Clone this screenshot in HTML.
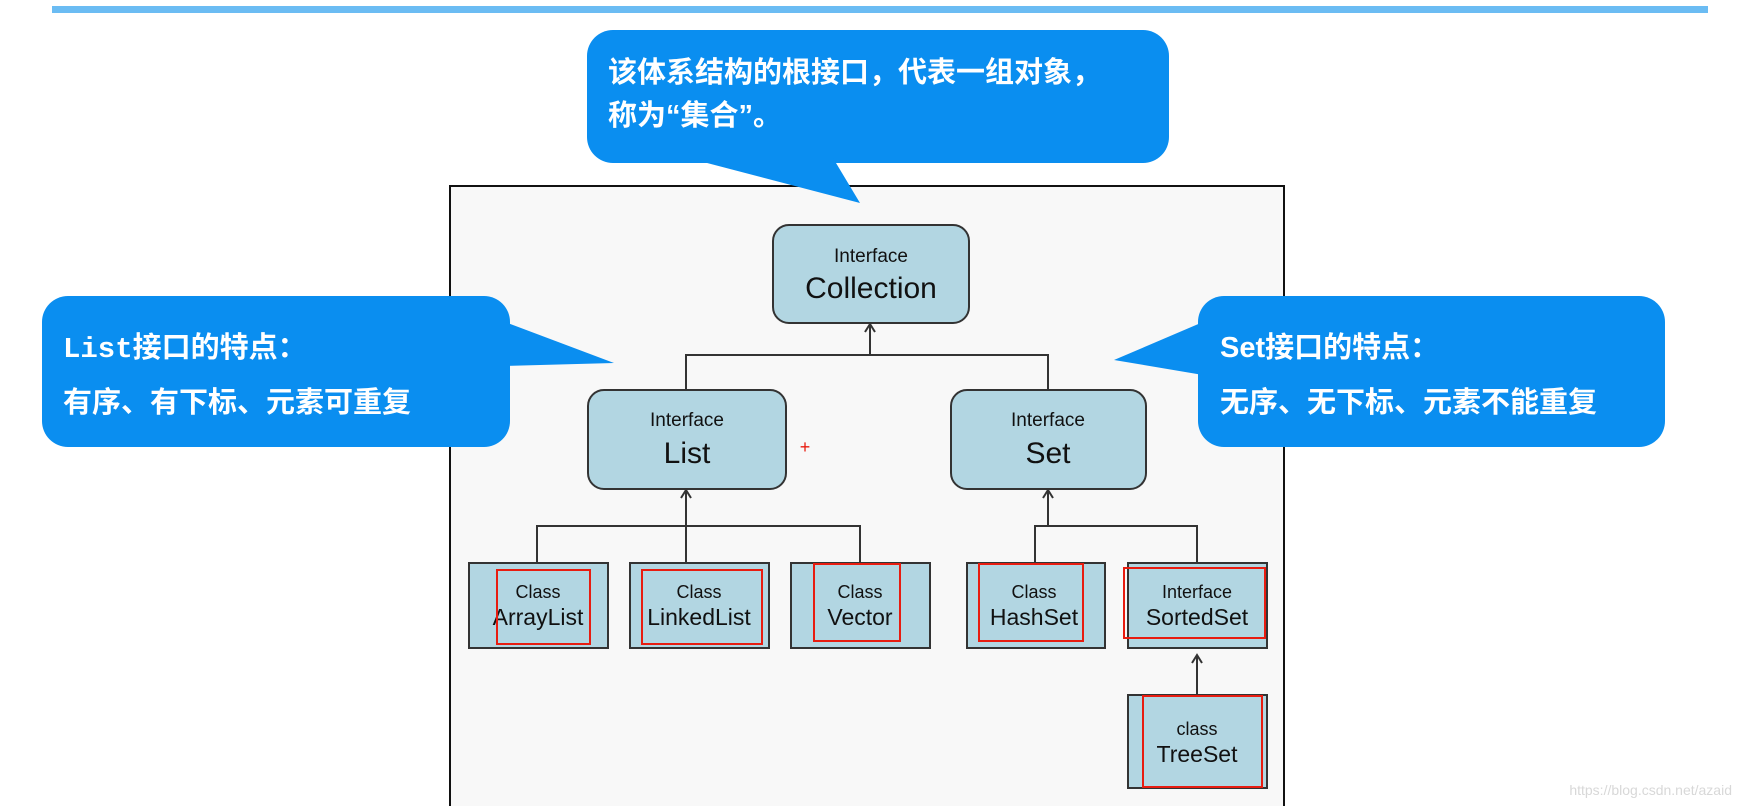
<!DOCTYPE html>
<html><head><meta charset="utf-8"><style>
html,body{margin:0;padding:0;background:#fff;}
svg{display:block}
</style></head><body>
<svg width="1741" height="806" viewBox="0 0 1741 806" xmlns="http://www.w3.org/2000/svg">
<rect x="0" y="0" width="1741" height="806" fill="#ffffff"/>
<rect x="52" y="6" width="1656" height="7" fill="#6bbcf3"/>
<!-- diagram frame -->
<rect x="450" y="186" width="834" height="625" fill="#f8f8f8" stroke="#111" stroke-width="2"/>
<g stroke="#333" stroke-width="2" fill="none">
<line x1="870" y1="325" x2="870" y2="355"/>
<polyline points="686,389 686,355 1048,355 1048,389"/>
<line x1="686" y1="491" x2="686" y2="563"/>
<polyline points="537,563 537,526 860,526 860,563"/>
<line x1="1048" y1="491" x2="1048" y2="526"/>
<polyline points="1035,563 1035,526 1197,526 1197,563"/>
<line x1="1197" y1="656" x2="1197" y2="694"/>
<polyline points="865,332 870,324 875,332"/>
<polyline points="681,498 686,490 691,498"/>
<polyline points="1043,498 1048,490 1053,498"/>
<polyline points="1192,663 1197,655 1202,663"/>
</g>
<g font-family="Liberation Sans, Arial, sans-serif" fill="#111" text-anchor="middle">
<rect x="773" y="225" width="196" height="98" rx="16" fill="#b2d6e2" stroke="#333" stroke-width="2"/>
<text x="871" y="262" font-size="19">Interface</text>
<text x="871" y="298" font-size="30">Collection</text>
<rect x="588" y="390" width="198" height="99" rx="16" fill="#b2d6e2" stroke="#333" stroke-width="2"/>
<text x="687" y="426" font-size="19">Interface</text>
<text x="687" y="463" font-size="30">List</text>
<rect x="951" y="390" width="195" height="99" rx="16" fill="#b2d6e2" stroke="#333" stroke-width="2"/>
<text x="1048" y="426" font-size="19">Interface</text>
<text x="1048" y="463" font-size="30">Set</text>
<g stroke="#333" stroke-width="2" fill="#b2d6e2">
<rect x="469" y="563" width="139" height="85"/>
<rect x="630" y="563" width="139" height="85"/>
<rect x="791" y="563" width="139" height="85"/>
<rect x="967" y="563" width="138" height="85"/>
<rect x="1128" y="563" width="139" height="85"/>
<rect x="1128" y="695" width="139" height="93"/>
</g>
<text x="538" y="598" font-size="18">Class</text><text x="538" y="625" font-size="23">ArrayList</text>
<text x="699" y="598" font-size="18">Class</text><text x="699" y="625" font-size="23">LinkedList</text>
<text x="860" y="598" font-size="18">Class</text><text x="860" y="625" font-size="23">Vector</text>
<text x="1034" y="598" font-size="18">Class</text><text x="1034" y="625" font-size="23">HashSet</text>
<text x="1197" y="598" font-size="18">Interface</text><text x="1197" y="625" font-size="23">SortedSet</text>
<text x="1197" y="735" font-size="18">class</text><text x="1197" y="762" font-size="23">TreeSet</text>
<g stroke="#e81c10" stroke-width="2" fill="none">
<rect x="497" y="570" width="93" height="74"/>
<rect x="642" y="570" width="120" height="74"/>
<rect x="814" y="564" width="86" height="77"/>
<rect x="979" y="564" width="104" height="77"/>
<rect x="1124" y="568" width="141" height="70"/>
<rect x="1143" y="696" width="119" height="91"/>
</g>
<text x="805" y="453" font-size="18" fill="#e81c10">+</text>
</g>
<!-- bubbles -->
<g fill="#0a8ef0">
<rect x="587" y="30" width="582" height="133" rx="26"/>
<polygon points="688,158 833,158 860,203"/>
<rect x="42" y="296" width="468" height="151" rx="26"/>
<polygon points="505,322 505,366 614,363"/>
<rect x="1198" y="296" width="467" height="151" rx="26"/>
<polygon points="1203,322 1203,375 1114,360"/>
</g>
<g font-family="Liberation Sans, 'Noto Sans CJK SC', sans-serif" fill="#fff" font-weight="bold" font-size="29">
<text x="608" y="82">该体系结构的根接口，代表一组对象，</text>
<text x="608" y="125">称为“集合”。</text>
<text x="63" y="357" font-family="Liberation Mono, 'Noto Sans CJK SC', monospace">List接口的特点：</text>
<text x="63" y="412">有序、有下标、元素可重复</text>
<text x="1220" y="357">Set接口的特点：</text>
<text x="1220" y="412">无序、无下标、元素不能重复</text>
</g>
<text x="1732" y="795" text-anchor="end" font-family="Liberation Sans, sans-serif" font-size="14" fill="#d8d8d8">https://blog.csdn.net/azaid</text>
</svg>
</body></html>
